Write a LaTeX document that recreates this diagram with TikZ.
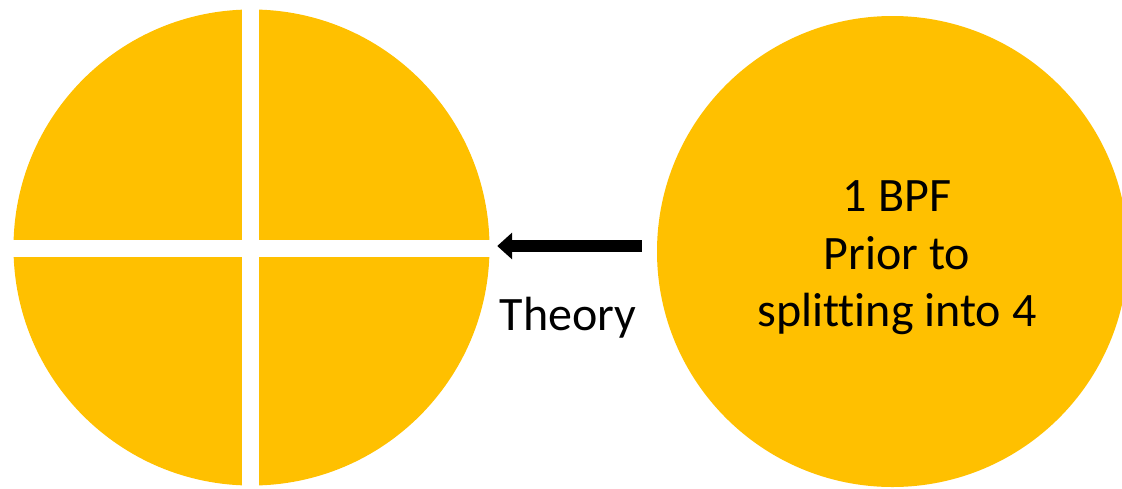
\documentclass[tikz,border=0pt]{standalone}
\usepackage{fontspec}
\setmainfont[Ligatures=NoCommon]{Carlito}
\usetikzlibrary{arrows.meta}
\definecolor{gold}{HTML}{FFC000}
\begin{document}
\begin{tikzpicture}[x=1pt,y=-1pt,
  disc/.style={circle, fill=gold, draw=none, inner sep=0pt},
  lbl/.style={font=\fontsize{48}{57.5}\selectfont, align=center, text=black, inner sep=0pt},
  gapstrip/.style={fill=white, draw=none},
  bigarrow/.style={line width=12pt, draw=black, -{Triangle[length=15pt,width=26pt]}}]
\useasboundingbox (0,0) rectangle (1122,488);
\node[disc, minimum size=476pt] (split) at (251.5,247.5) {};
\fill[gapstrip] (242,0) rectangle (259,488);
\fill[gapstrip] (0,239.5) rectangle (497,256.5);
\node[disc, minimum size=471pt] (bpf) at (892.5,251.5) {};
\node[lbl] (bpftext) at (897,258) {1 BPF\\Prior to\\splitting into 4};
\node[lbl, anchor=base] (theory) at (568,330) {Theory};
\draw[bigarrow] ([shift={(-15,-5.5)}]bpf.west) -- ([shift={(7.5,-1.5)}]split.east);
\end{tikzpicture}
\end{document}
